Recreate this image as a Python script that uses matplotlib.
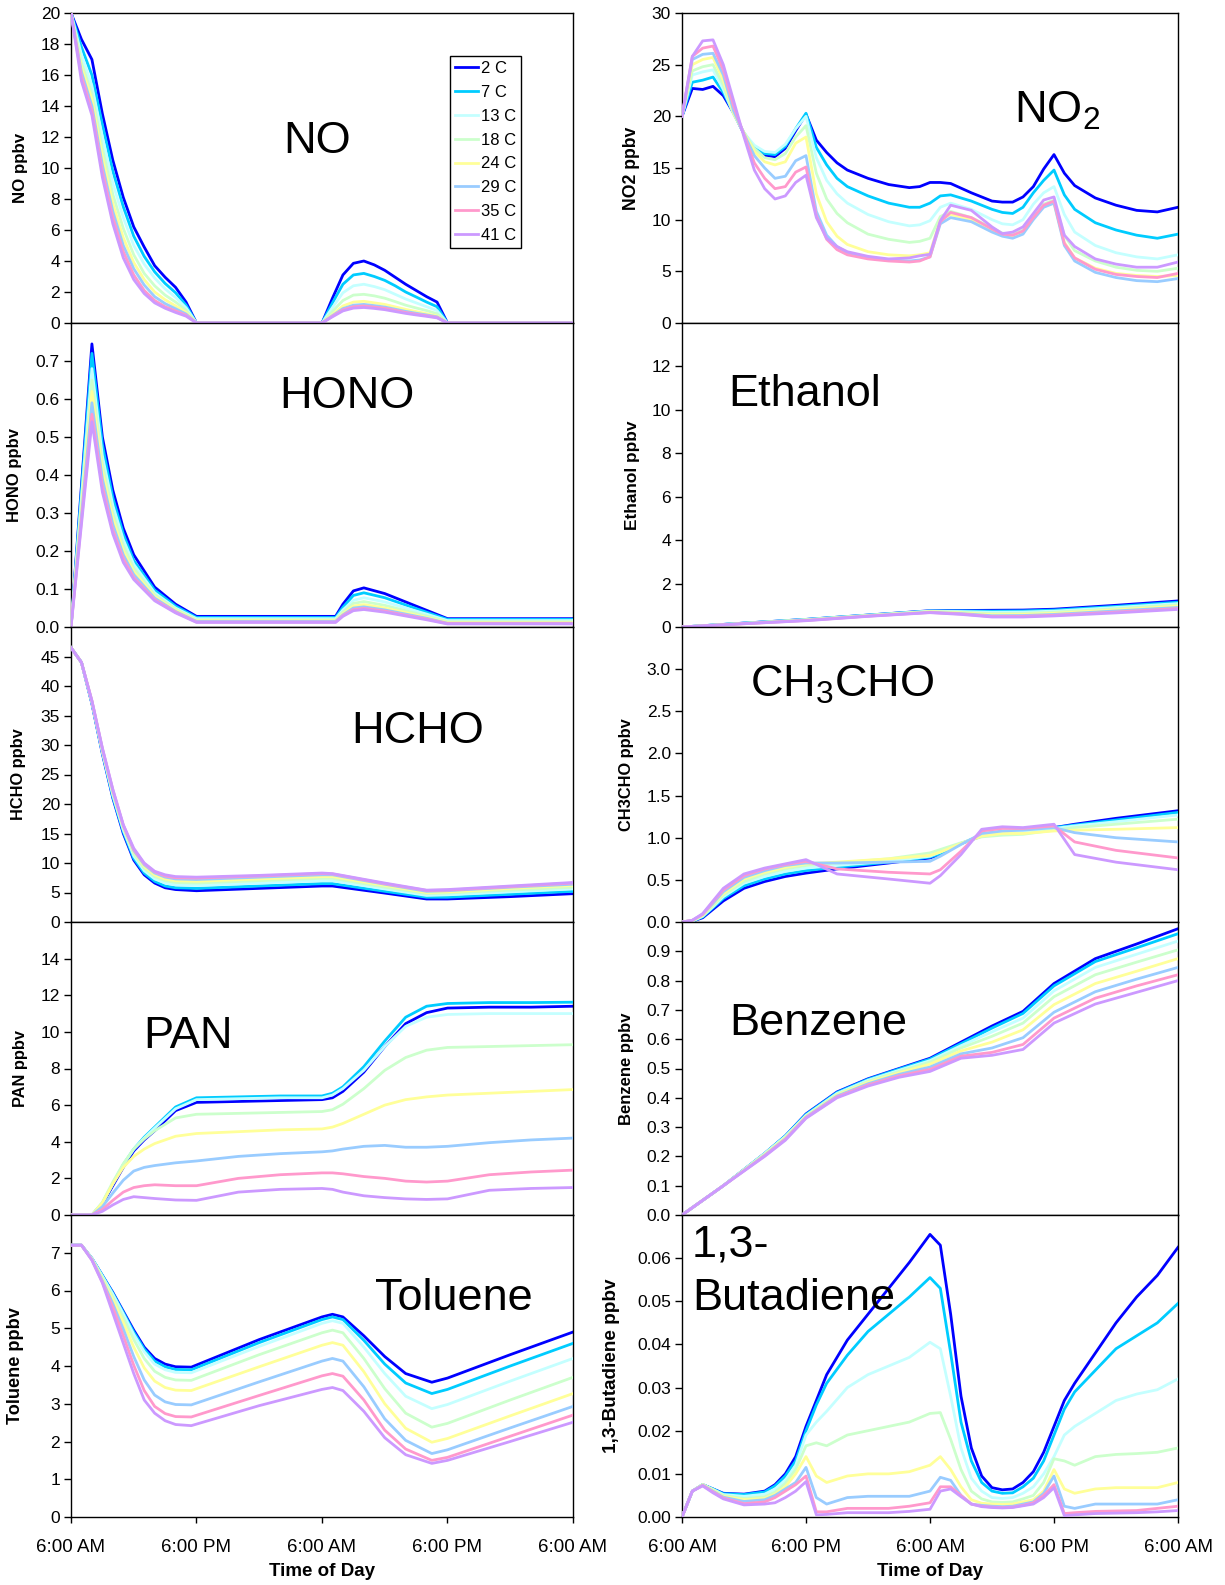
import matplotlib
matplotlib.use("Agg")
import matplotlib.pyplot as plt
from matplotlib.ticker import FormatStrFormatter

plt.rcParams["font.family"] = ["Liberation Sans", "DejaVu Sans"]
plt.rcParams["mathtext.fontset"] = "custom"
plt.rcParams["mathtext.rm"] = "Liberation Sans"
plt.rcParams["mathtext.default"] = "rm"

# temperature runs and their Excel-style colours
temps = ["2 C", "7 C", "13 C", "18 C", "24 C", "29 C", "35 C", "41 C"]
colors = ["#0000FF", "#00CCFF", "#C4FFFF", "#CCFFCC",
          "#FFFF99", "#99CCFF", "#FF99CC", "#CC99FF"]

# x axis: hours after 6:00 AM of day 1
hour_ticks = [0, 12, 24, 36, 48]
hour_labels = ["6:00 AM", "6:00 PM", "6:00 AM", "6:00 PM", "6:00 AM"]

# ---------------- NO ----------------
no_t = [0, 1, 2, 3, 4, 5, 6, 7, 8, 9, 10, 11, 12,
        24, 25, 26, 27, 28, 29, 30, 31, 32, 33, 34, 35, 36, 48]
no_ppbv = [
    [20, 18.3, 17.0, 13.5, 10.5, 8.1, 6.2, 4.9, 3.7, 2.95, 2.3, 1.35, 0,
     0, 1.6, 3.1, 3.85, 4.0, 3.75, 3.4, 2.95, 2.5, 2.1, 1.7, 1.35, 0, 0],
    [20, 17.8, 16.0, 12.8, 9.8, 7.5, 5.6, 4.3, 3.3, 2.55, 1.95, 1.15, 0,
     0, 1.3, 2.5, 3.1, 3.2, 3.0, 2.75, 2.4, 2.0, 1.68, 1.35, 1.05, 0, 0],
    [20, 17.3, 15.3, 12.0, 9.0, 6.8, 5.0, 3.8, 2.9, 2.2, 1.65, 0.98, 0,
     0, 1.0, 1.95, 2.4, 2.5, 2.35, 2.15, 1.85, 1.55, 1.3, 1.05, 0.8, 0, 0],
    [20, 16.8, 14.8, 11.3, 8.3, 6.1, 4.4, 3.2, 2.4, 1.8, 1.35, 0.82, 0,
     0, 0.75, 1.45, 1.8, 1.85, 1.75, 1.6, 1.38, 1.15, 0.97, 0.8, 0.6, 0, 0],
    [20, 16.5, 14.4, 10.7, 7.7, 5.5, 3.9, 2.8, 2.0, 1.5, 1.1, 0.68, 0,
     0, 0.55, 1.1, 1.35, 1.4, 1.3, 1.2, 1.04, 0.88, 0.74, 0.6, 0.45, 0, 0],
    [20, 16.2, 14.0, 10.2, 7.2, 5.0, 3.5, 2.45, 1.7, 1.25, 0.92, 0.58, 0,
     0, 0.48, 0.93, 1.15, 1.2, 1.12, 1.03, 0.89, 0.75, 0.63, 0.52, 0.4, 0, 0],
    [20, 15.9, 13.7, 9.8, 6.8, 4.6, 3.1, 2.1, 1.45, 1.05, 0.78, 0.5, 0,
     0, 0.44, 0.85, 1.05, 1.1, 1.03, 0.95, 0.82, 0.68, 0.57, 0.47, 0.36, 0, 0],
    [20, 15.6, 13.4, 9.4, 6.4, 4.2, 2.8, 1.9, 1.3, 0.95, 0.68, 0.44, 0,
     0, 0.4, 0.78, 0.96, 1.0, 0.94, 0.86, 0.74, 0.62, 0.52, 0.43, 0.33, 0, 0],
]

# ---------------- HONO ----------------
hono_t = [0, 2, 3, 4, 5, 6, 8, 10, 12, 25.3, 26, 27, 28, 30, 32, 34, 36, 48]
hono_ppbv = [
    [0, 0.745, 0.50, 0.36, 0.26, 0.19, 0.105, 0.06, 0.028, 0.028, 0.06, 0.095, 0.103, 0.088, 0.066, 0.044, 0.022, 0.022],
    [0, 0.72, 0.48, 0.34, 0.245, 0.175, 0.097, 0.055, 0.025, 0.025, 0.052, 0.083, 0.09, 0.077, 0.058, 0.039, 0.02, 0.02],
    [0, 0.68, 0.45, 0.32, 0.23, 0.165, 0.09, 0.05, 0.022, 0.022, 0.045, 0.07, 0.077, 0.066, 0.05, 0.034, 0.017, 0.017],
    [0, 0.65, 0.43, 0.30, 0.215, 0.155, 0.085, 0.047, 0.019, 0.019, 0.04, 0.062, 0.067, 0.057, 0.043, 0.029, 0.014, 0.014],
    [0, 0.62, 0.41, 0.285, 0.20, 0.145, 0.08, 0.044, 0.017, 0.017, 0.035, 0.055, 0.059, 0.05, 0.038, 0.025, 0.012, 0.012],
    [0, 0.59, 0.39, 0.27, 0.19, 0.138, 0.076, 0.041, 0.015, 0.015, 0.032, 0.05, 0.053, 0.045, 0.034, 0.023, 0.010, 0.010],
    [0, 0.56, 0.37, 0.255, 0.18, 0.13, 0.072, 0.039, 0.013, 0.013, 0.03, 0.046, 0.049, 0.042, 0.031, 0.021, 0.009, 0.009],
    [0, 0.54, 0.355, 0.245, 0.17, 0.125, 0.069, 0.037, 0.012, 0.012, 0.028, 0.043, 0.046, 0.039, 0.029, 0.019, 0.008, 0.008],
]

# ---------------- HCHO ----------------
hcho_t = [0, 1, 2, 3, 4, 5, 6, 7, 8, 9, 10, 12, 18, 24, 25, 30, 34, 36, 42, 48]
hcho_ppbv = [
    [46.5, 44.0, 37.0, 28.5, 21.0, 15.0, 10.5, 8.0, 6.6, 5.8, 5.5, 5.3, 5.7, 6.1, 6.1, 4.9, 3.9, 3.9, 4.3, 4.8],
    [46.5, 44.0, 37.1, 28.7, 21.2, 15.3, 10.8, 8.3, 6.9, 6.1, 5.8, 5.7, 6.1, 6.5, 6.5, 5.2, 4.2, 4.2, 4.7, 5.2],
    [46.5, 44.0, 37.2, 28.8, 21.5, 15.6, 11.2, 8.7, 7.3, 6.6, 6.3, 6.2, 6.6, 7.0, 7.0, 5.6, 4.5, 4.6, 5.1, 5.6],
    [46.5, 44.0, 37.3, 29.0, 21.8, 15.9, 11.6, 9.1, 7.7, 7.0, 6.7, 6.6, 7.0, 7.4, 7.4, 5.9, 4.8, 4.9, 5.4, 5.9],
    [46.5, 44.0, 37.4, 29.2, 22.0, 16.1, 11.9, 9.4, 8.0, 7.3, 7.0, 6.9, 7.3, 7.7, 7.7, 6.2, 5.0, 5.1, 5.7, 6.2],
    [46.5, 44.0, 37.4, 29.3, 22.2, 16.3, 12.1, 9.7, 8.3, 7.6, 7.3, 7.2, 7.6, 8.0, 8.0, 6.4, 5.2, 5.3, 5.9, 6.4],
    [46.5, 44.0, 37.5, 29.4, 22.4, 16.4, 12.3, 9.9, 8.5, 7.8, 7.5, 7.45, 7.8, 8.2, 8.15, 6.5, 5.35, 5.4, 6.0, 6.6],
    [46.5, 44.0, 37.5, 29.5, 22.5, 16.5, 12.5, 10.0, 8.6, 8.0, 7.7, 7.6, 7.9, 8.3, 8.2, 6.6, 5.4, 5.5, 6.1, 6.7],
]

# ---------------- PAN ----------------
pan_t = [0, 2, 3, 4, 5, 6, 7, 8, 10, 12, 16, 20, 24, 25, 26, 28, 30, 32, 34, 36, 40, 44, 48]
pan_ppbv = [
    [0, 0, 0.6, 1.6, 2.6, 3.5, 4.1, 4.6, 5.7, 6.15, 6.2, 6.25, 6.3, 6.4, 6.75, 7.8, 9.2, 10.45, 11.05, 11.3, 11.35, 11.35, 11.4],
    [0, 0, 0.65, 1.7, 2.75, 3.6, 4.25, 4.8, 5.9, 6.4, 6.45, 6.5, 6.5, 6.65, 7.0, 8.1, 9.5, 10.8, 11.4, 11.55, 11.6, 11.6, 11.62],
    [0, 0, 0.65, 1.7, 2.75, 3.6, 4.2, 4.75, 5.8, 6.3, 6.35, 6.4, 6.4, 6.55, 6.9, 7.9, 9.2, 10.3, 10.8, 10.95, 11.0, 11.0, 11.0],
    [0, 0, 0.7, 1.8, 2.8, 3.6, 4.15, 4.6, 5.3, 5.5, 5.55, 5.6, 5.65, 5.75, 6.05, 6.9, 7.9, 8.6, 9.0, 9.15, 9.2, 9.25, 9.3],
    [0, 0, 0.65, 1.7, 2.6, 3.2, 3.6, 3.9, 4.3, 4.45, 4.55, 4.65, 4.7, 4.8, 5.0, 5.5, 6.0, 6.3, 6.45, 6.55, 6.65, 6.75, 6.85],
    [0, 0, 0.45, 1.2, 1.9, 2.4, 2.6, 2.7, 2.85, 2.95, 3.2, 3.35, 3.45, 3.5, 3.6, 3.75, 3.8, 3.7, 3.7, 3.75, 3.95, 4.1, 4.2],
    [0, 0, 0.3, 0.8, 1.25, 1.5, 1.6, 1.65, 1.6, 1.6, 2.0, 2.2, 2.3, 2.3, 2.25, 2.1, 2.0, 1.85, 1.8, 1.85, 2.2, 2.35, 2.45],
    [0, 0, 0.2, 0.55, 0.85, 1.0, 0.95, 0.9, 0.82, 0.8, 1.25, 1.4, 1.45, 1.4, 1.25, 1.05, 0.95, 0.88, 0.85, 0.88, 1.35, 1.45, 1.5],
]

# ---------------- Toluene ----------------
tol_t = [0, 1, 2, 3, 4, 5, 6, 7, 8, 9, 10, 11.5, 18, 24, 25, 26, 28, 30, 32, 34.5, 36, 42, 48]
tol_ppbv = [
    [7.2, 7.2, 6.85, 6.4, 5.95, 5.45, 4.95, 4.5, 4.2, 4.05, 3.98, 3.97, 4.7, 5.3, 5.37, 5.3, 4.8, 4.25, 3.8, 3.57, 3.68, 4.3, 4.9],
    [7.2, 7.2, 6.85, 6.4, 5.93, 5.42, 4.9, 4.45, 4.13, 3.98, 3.91, 3.9, 4.62, 5.23, 5.3, 5.23, 4.68, 4.05, 3.55, 3.27, 3.38, 4.0, 4.6],
    [7.2, 7.2, 6.85, 6.38, 5.9, 5.38, 4.84, 4.38, 4.05, 3.9, 3.83, 3.82, 4.52, 5.13, 5.2, 5.13, 4.5, 3.8, 3.2, 2.87, 2.98, 3.6, 4.2],
    [7.2, 7.2, 6.84, 6.35, 5.83, 5.28, 4.7, 4.2, 3.86, 3.7, 3.63, 3.62, 4.3, 4.88, 4.95, 4.88, 4.2, 3.4, 2.75, 2.38, 2.48, 3.1, 3.7],
    [7.2, 7.2, 6.83, 6.3, 5.75, 5.15, 4.5, 3.95, 3.6, 3.43, 3.36, 3.35, 3.98, 4.55, 4.62, 4.55, 3.85, 3.0, 2.35, 1.98, 2.08, 2.68, 3.27],
    [7.2, 7.2, 6.82, 6.26, 5.65, 4.98, 4.25, 3.63, 3.23, 3.05, 2.98, 2.97, 3.58, 4.13, 4.2, 4.13, 3.45, 2.6, 2.03, 1.68, 1.78, 2.36, 2.93],
    [7.2, 7.2, 6.81, 6.22, 5.55, 4.8, 4.02, 3.35, 2.93, 2.74, 2.66, 2.65, 3.22, 3.74, 3.8, 3.73, 3.1, 2.3, 1.8, 1.5, 1.58, 2.14, 2.7],
    [7.2, 7.2, 6.8, 6.2, 5.4, 4.6, 3.8, 3.1, 2.75, 2.55, 2.45, 2.42, 2.95, 3.38, 3.43, 3.35, 2.8, 2.1, 1.65, 1.42, 1.5, 2.0, 2.51],
]

# ---------------- NO2 ----------------
no2_t = [0, 1, 2, 3, 4, 5, 6, 7, 8, 9, 10, 11, 12, 13, 14, 15, 16, 18, 20, 22, 23,
         24, 25, 26, 28, 30, 31, 32, 33, 34, 35, 36, 37, 38, 40, 42, 44, 46, 48]
no2_ppbv = [
    [20, 22.7, 22.6, 22.9, 22.0, 20.3, 18.3, 17.0, 16.2, 16.1, 16.9, 18.6, 20.2,
     17.7, 16.5, 15.5, 14.8, 14.0, 13.4, 13.1, 13.2,
     13.6, 13.6, 13.5, 12.6, 11.8, 11.7, 11.7, 12.2, 13.2, 14.9, 16.3, 14.5, 13.3, 12.1, 11.4, 10.9, 10.75, 11.2],
    [20, 23.3, 23.5, 23.8, 22.3, 20.3, 18.4, 17.0, 16.4, 16.3, 17.1, 18.8, 20.3,
     17.0, 15.3, 14.0, 13.2, 12.3, 11.6, 11.2, 11.2,
     11.6, 12.3, 12.4, 11.8, 11.0, 10.7, 10.6, 11.2, 12.6, 13.8, 14.8, 12.4, 11.0, 9.7, 9.0, 8.5, 8.2, 8.6],
    [20, 24.0, 24.3, 24.5, 22.6, 20.2, 18.4, 17.2, 16.6, 16.5, 17.3, 18.8, 20.0,
     16.0, 13.8, 12.5, 11.6, 10.5, 9.8, 9.4, 9.5,
     9.9, 11.2, 11.6, 11.0, 10.0, 9.6, 9.5, 10.0, 11.5, 12.6, 13.2, 10.5, 8.8, 7.5, 6.8, 6.4, 6.2, 6.6],
    [20, 24.4, 24.8, 25.0, 23.0, 20.2, 18.4, 16.9, 16.0, 15.8, 16.4, 18.0, 19.1,
     14.5, 12.0, 10.6, 9.7, 8.6, 8.1, 7.8, 7.9,
     8.2, 10.3, 10.8, 10.2, 9.2, 8.7, 8.6, 9.0, 10.5, 11.5, 11.9, 8.5, 7.0, 6.0, 5.4, 5.1, 5.0, 5.3],
    [20, 25.0, 25.5, 25.7, 23.5, 20.3, 18.4, 16.6, 15.6, 15.3, 15.6, 17.4, 18.0,
     12.5, 9.8, 8.4, 7.6, 6.9, 6.6, 6.5, 6.6,
     6.8, 10.0, 10.5, 10.0, 9.0, 8.5, 8.3, 8.7, 10.2, 11.3, 11.6, 7.8, 6.3, 5.3, 4.8, 4.6, 4.5, 4.6],
    [20, 25.5, 26.0, 26.1, 24.0, 20.5, 18.3, 16.2, 15.0, 14.0, 14.2, 15.7, 16.2,
     10.8, 8.5, 7.4, 6.8, 6.3, 6.1, 6.0, 6.1,
     6.4, 9.6, 10.2, 9.8, 8.8, 8.4, 8.2, 8.6, 10.0, 11.2, 11.6, 7.5, 6.0, 4.9, 4.4, 4.1, 4.0, 4.3],
    [20, 25.8, 26.6, 26.8, 24.5, 21.0, 18.2, 15.5, 14.0, 13.0, 13.2, 14.6, 15.1,
     10.4, 8.1, 7.1, 6.6, 6.2, 6.0, 5.9, 6.0,
     6.4, 9.8, 10.7, 10.2, 9.1, 8.6, 8.5, 8.9, 10.2, 11.4, 11.8, 7.7, 6.3, 5.2, 4.7, 4.5, 4.4, 4.8],
    [20, 25.8, 27.3, 27.4, 25.0, 21.5, 18.0, 14.8, 13.0, 12.0, 12.3, 13.6, 14.3,
     10.2, 8.2, 7.4, 6.9, 6.45, 6.2, 6.3, 6.5,
     6.65, 9.9, 11.4, 10.9, 9.3, 8.65, 8.8, 9.3, 10.6, 11.9, 12.2, 8.5, 7.4, 6.2, 5.7, 5.4, 5.4, 5.9],
]

# ---------------- Ethanol ----------------
eth_t = [0, 6, 12, 18, 24, 27, 30, 33, 36, 42, 48]
eth_ppbv = [
    [0, 0.18, 0.35, 0.55, 0.75, 0.76, 0.77, 0.78, 0.82, 1.0, 1.2],
    [0, 0.18, 0.35, 0.55, 0.74, 0.74, 0.73, 0.74, 0.78, 0.95, 1.14],
    [0, 0.17, 0.34, 0.54, 0.73, 0.71, 0.68, 0.69, 0.73, 0.9, 1.08],
    [0, 0.17, 0.33, 0.53, 0.72, 0.68, 0.62, 0.63, 0.68, 0.84, 1.02],
    [0, 0.16, 0.32, 0.52, 0.70, 0.65, 0.57, 0.58, 0.63, 0.79, 0.96],
    [0, 0.16, 0.31, 0.51, 0.68, 0.62, 0.52, 0.53, 0.58, 0.74, 0.9],
    [0, 0.15, 0.30, 0.50, 0.67, 0.60, 0.48, 0.49, 0.54, 0.69, 0.85],
    [0, 0.15, 0.29, 0.49, 0.66, 0.58, 0.46, 0.46, 0.51, 0.65, 0.81],
]

# ---------------- CH3CHO ----------------
ald_t = [0, 1, 2, 3, 4, 6, 8, 10, 12, 15, 20, 24, 25, 27, 29, 31, 33, 36, 38, 42, 48]
ald_ppbv = [
    [0, 0.01, 0.05, 0.15, 0.25, 0.40, 0.48, 0.54, 0.58, 0.63, 0.70, 0.76, 0.80, 0.93, 1.02, 1.06, 1.08, 1.12, 1.16, 1.23, 1.32],
    [0, 0.01, 0.06, 0.17, 0.28, 0.43, 0.51, 0.57, 0.61, 0.65, 0.71, 0.77, 0.81, 0.93, 1.03, 1.06, 1.08, 1.12, 1.15, 1.21, 1.30],
    [0, 0.01, 0.07, 0.18, 0.30, 0.46, 0.54, 0.60, 0.64, 0.67, 0.72, 0.78, 0.83, 0.93, 1.03, 1.06, 1.07, 1.11, 1.14, 1.19, 1.27],
    [0, 0.01, 0.07, 0.19, 0.32, 0.48, 0.57, 0.63, 0.67, 0.70, 0.75, 0.82, 0.86, 0.94, 1.01, 1.03, 1.04, 1.09, 1.12, 1.16, 1.22],
    [0, 0.02, 0.08, 0.21, 0.34, 0.51, 0.59, 0.65, 0.69, 0.71, 0.75, 0.79, 0.83, 0.93, 1.02, 1.05, 1.05, 1.08, 1.09, 1.10, 1.12],
    [0, 0.02, 0.09, 0.22, 0.36, 0.53, 0.61, 0.67, 0.70, 0.70, 0.71, 0.72, 0.78, 0.92, 1.05, 1.08, 1.09, 1.12, 1.06, 1.00, 0.95],
    [0, 0.02, 0.09, 0.24, 0.38, 0.55, 0.63, 0.68, 0.72, 0.63, 0.59, 0.57, 0.62, 0.84, 1.08, 1.11, 1.11, 1.14, 0.95, 0.85, 0.76],
    [0, 0.02, 0.10, 0.25, 0.40, 0.57, 0.64, 0.69, 0.74, 0.57, 0.51, 0.46, 0.55, 0.80, 1.10, 1.13, 1.12, 1.16, 0.80, 0.71, 0.62],
]

# ---------------- Benzene ----------------
benz_t = [0, 4, 8, 10, 12, 15, 18, 21, 24, 27, 30, 33, 36, 40, 44, 48]
benz_ppbv = [
    [0, 0.10, 0.21, 0.27, 0.345, 0.42, 0.465, 0.50, 0.535, 0.59, 0.645, 0.695, 0.79, 0.875, 0.925, 0.977],
    [0, 0.10, 0.21, 0.27, 0.343, 0.418, 0.463, 0.498, 0.532, 0.585, 0.638, 0.688, 0.782, 0.865, 0.912, 0.96],
    [0, 0.10, 0.21, 0.268, 0.34, 0.415, 0.46, 0.494, 0.527, 0.578, 0.625, 0.672, 0.765, 0.845, 0.89, 0.935],
    [0, 0.10, 0.208, 0.266, 0.338, 0.412, 0.456, 0.49, 0.522, 0.57, 0.61, 0.655, 0.745, 0.82, 0.863, 0.905],
    [0, 0.10, 0.206, 0.263, 0.336, 0.409, 0.452, 0.485, 0.515, 0.56, 0.59, 0.632, 0.718, 0.79, 0.832, 0.875],
    [0, 0.10, 0.204, 0.26, 0.334, 0.406, 0.448, 0.48, 0.505, 0.55, 0.57, 0.605, 0.692, 0.762, 0.805, 0.845],
    [0, 0.10, 0.202, 0.258, 0.332, 0.403, 0.444, 0.475, 0.497, 0.542, 0.555, 0.582, 0.672, 0.74, 0.782, 0.82],
    [0, 0.10, 0.20, 0.255, 0.33, 0.40, 0.44, 0.47, 0.49, 0.535, 0.545, 0.565, 0.655, 0.72, 0.76, 0.80],
]

# ---------------- 1,3-Butadiene ----------------
but_t = [0, 1, 2, 3, 4, 6, 8, 9, 10, 11, 12, 13, 14, 16, 18, 20, 22, 24, 25, 26,
         27, 28, 29, 30, 31, 32, 33, 34, 35, 36, 37, 38, 40, 42, 44, 46, 48]
but_ppbv = [
    [0, 0.006, 0.0075, 0.0065, 0.0055, 0.0053, 0.006, 0.0075, 0.010, 0.014, 0.021, 0.027, 0.033, 0.041, 0.047,
     0.053, 0.059, 0.0655, 0.063, 0.047, 0.028, 0.016, 0.0095, 0.0068, 0.0063, 0.0065, 0.008, 0.0105, 0.015,
     0.021, 0.027, 0.031, 0.038, 0.045, 0.051, 0.056, 0.0625],
    [0, 0.006, 0.0075, 0.0065, 0.0054, 0.0052, 0.0058, 0.0072, 0.0095, 0.013, 0.020, 0.026, 0.031, 0.0375, 0.043,
     0.047, 0.051, 0.0555, 0.053, 0.038, 0.022, 0.013, 0.008, 0.006, 0.0055, 0.0056, 0.007, 0.009, 0.013,
     0.019, 0.025, 0.029, 0.034, 0.039, 0.042, 0.045, 0.0495],
    [0, 0.006, 0.0075, 0.0064, 0.0052, 0.0048, 0.0053, 0.0065, 0.0085, 0.012, 0.019, 0.022, 0.0245, 0.030, 0.033,
     0.035, 0.037, 0.0405, 0.039, 0.028, 0.016, 0.009, 0.006, 0.0045, 0.0043, 0.0045, 0.0055, 0.007, 0.010,
     0.014, 0.019, 0.021, 0.024, 0.027, 0.0285, 0.0295, 0.032],
    [0, 0.006, 0.0075, 0.0063, 0.005, 0.0043, 0.0047, 0.0058, 0.0078, 0.011, 0.0165, 0.0172, 0.0165, 0.019, 0.020,
     0.021, 0.022, 0.024, 0.0242, 0.018, 0.011, 0.006, 0.0042, 0.0035, 0.0034, 0.0035, 0.0042, 0.005, 0.008,
     0.0135, 0.013, 0.012, 0.014, 0.0145, 0.0147, 0.015, 0.016],
    [0, 0.006, 0.0075, 0.0062, 0.0048, 0.004, 0.0043, 0.0053, 0.007, 0.010, 0.014, 0.0095, 0.008, 0.0095, 0.010,
     0.010, 0.0105, 0.012, 0.014, 0.011, 0.007, 0.004, 0.0032, 0.003, 0.0029, 0.003, 0.0035, 0.004, 0.006,
     0.011, 0.0065, 0.0055, 0.0065, 0.0068, 0.0068, 0.0068, 0.008],
    [0, 0.006, 0.0074, 0.006, 0.0046, 0.0036, 0.004, 0.005, 0.0065, 0.008, 0.0115, 0.0045, 0.003, 0.0045, 0.0048,
     0.0048, 0.0048, 0.006, 0.0092, 0.0085, 0.005, 0.003, 0.0027, 0.0025, 0.0024, 0.0025, 0.003, 0.0035, 0.0055,
     0.0095, 0.0025, 0.002, 0.003, 0.003, 0.003, 0.003, 0.004],
    [0, 0.006, 0.0073, 0.0058, 0.0044, 0.0031, 0.0035, 0.0045, 0.006, 0.0075, 0.0095, 0.0012, 0.0012, 0.002, 0.002,
     0.002, 0.0025, 0.0033, 0.007, 0.007, 0.005, 0.003, 0.0025, 0.0023, 0.0022, 0.0023, 0.0027, 0.0033, 0.005,
     0.0075, 0.0008, 0.001, 0.0013, 0.0014, 0.0015, 0.002, 0.0025],
    [0, 0.006, 0.0072, 0.0056, 0.0042, 0.0028, 0.003, 0.0033, 0.0045, 0.006, 0.0082, 0.0005, 0.0006, 0.001, 0.001,
     0.001, 0.0013, 0.0018, 0.006, 0.0065, 0.0047, 0.003, 0.0024, 0.0022, 0.0021, 0.0022, 0.0026, 0.003, 0.0045,
     0.0068, 0.0003, 0.0005, 0.0008, 0.0009, 0.001, 0.0012, 0.0015],
]

# ---------------- layout (pixels of the 1225x1585 image) ----------------
W, H = 1225, 1585
fig = plt.figure(figsize=(W / 100, H / 100), dpi=100)
row_edges = [13, 323, 627, 922, 1215, 1517]
col_edges = [(71, 573), (682, 1178)]


def fx(px):
    return px / W


def fy(py):
    return 1 - py / H


def make_axes(col, row):
    x0, x1 = col_edges[col]
    y0, y1 = row_edges[row], row_edges[row + 1]
    return fig.add_axes([fx(x0), fy(y1), (x1 - x0) / W, (y1 - y0) / H])


def draw_panel(col, row, t, series, ymax, yticks, fmt, ylabel, lsize, lx,
               title, tx, ty, bottom=False):
    ax = make_axes(col, row)
    for i, vals in enumerate(series):
        ax.plot(t, vals, color=colors[i], lw=2.0, label=temps[i],
                solid_joinstyle="round", zorder=2 + i)
    ax.set_xlim(0, 48)
    ax.set_ylim(0, ymax)
    ax.set_yticks(yticks)
    ax.yaxis.set_major_formatter(FormatStrFormatter(fmt))
    ax.set_xticks(hour_ticks)
    ax.tick_params(axis="y", direction="out", length=5, width=1,
                   labelsize=12.5, pad=3)
    if bottom:
        ax.set_xticklabels(hour_labels)
        ax.tick_params(axis="x", direction="out", length=4, width=1,
                       labelsize=13.5, pad=12)
    else:
        ax.tick_params(axis="x", length=0, labelbottom=False)
    for s in ax.spines.values():
        s.set_linewidth(1.0)
    y0, y1 = row_edges[row], row_edges[row + 1]
    fig.text(fx(lx), fy((y0 + y1) / 2), ylabel, rotation=90, ha="center",
             va="center", fontsize=lsize, fontweight="bold")
    if title is not None:
        fig.text(fx(tx), fy(ty), title, ha="center", va="baseline",
                 fontsize=32.5)
    if bottom:
        x0, x1 = col_edges[col]
        fig.text(fx((x0 + x1) / 2), fy(1571), "Time of Day", ha="center",
                 va="center", fontsize=13.5, fontweight="bold")
    return ax


# left column
ax_no = draw_panel(0, 0, no_t, no_ppbv, 20, list(range(0, 21, 2)), "%d",
                   "NO ppbv", 12.2, 20, "NO", 317, 153)
draw_panel(0, 1, hono_t, hono_ppbv, 0.8, [i / 10 for i in range(8)], "%.1f",
           "HONO ppbv", 12, 15, "HONO", 347, 408)
draw_panel(0, 2, hcho_t, hcho_ppbv, 50, list(range(0, 46, 5)), "%d",
           "HCHO ppbv", 11.8, 18.5, "HCHO", 418, 743)
draw_panel(0, 3, pan_t, pan_ppbv, 16, list(range(0, 15, 2)), "%d",
           "PAN ppbv", 11.8, 20, "PAN", 188, 1048)
draw_panel(0, 4, tol_t, tol_ppbv, 8, list(range(0, 8)), "%d",
           "Toluene ppbv", 13.1, 15.5, "Toluene", 454, 1310, bottom=True)

# right column
draw_panel(1, 0, no2_t, no2_ppbv, 30, list(range(0, 31, 5)), "%d",
           "NO2 ppbv", 12.7, 632, r"NO$_2$", 1057, 123)
draw_panel(1, 1, eth_t, eth_ppbv, 14, list(range(0, 13, 2)), "%d",
           "Ethanol ppbv", 12.4, 632, "Ethanol", 805, 406)
draw_panel(1, 2, ald_t, ald_ppbv, 3.5, [i / 2 for i in range(7)], "%.1f",
           "CH3CHO ppbv", 11.8, 627, r"CH$_3$CHO", 842, 697)
draw_panel(1, 3, benz_t, benz_ppbv, 1.0, [i / 10 for i in range(10)], "%.1f",
           "Benzene ppbv", 12, 626, "Benzene", 818, 1035)
draw_panel(1, 4, but_t, but_ppbv, 0.07, [i / 100 for i in range(7)], "%.2f",
           "1,3-Butadiene ppbv", 13.6, 611, None, 0, 0, bottom=True)
fig.text(fx(692), fy(1257), "1,3-", ha="left", va="baseline", fontsize=32.5)
fig.text(fx(692), fy(1310), "Butadiene", ha="left", va="baseline", fontsize=32.5)

# legend inside the NO panel
leg = ax_no.legend(loc="upper left", bbox_to_anchor=(0.755, 0.861),
                   fontsize=12, frameon=True, fancybox=False,
                   edgecolor="black", framealpha=1, borderpad=0.3,
                   labelspacing=0.53, handlelength=1.38, handletextpad=0.18,
                   borderaxespad=0)
leg.get_frame().set_linewidth(1.0)

plt.savefig("out.png", dpi=100)
